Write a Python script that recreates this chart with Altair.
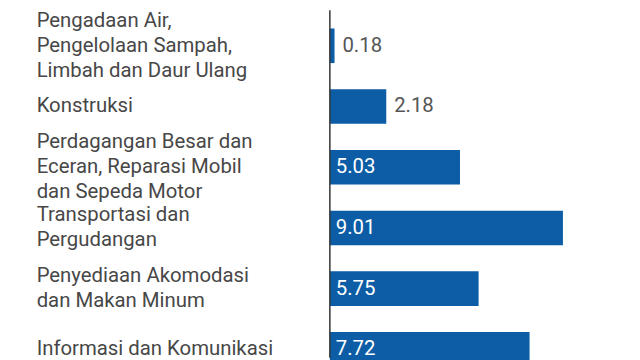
import altair as alt
import pandas as pd

categories = [
    "Pengadaan Air,\nPengelolaan Sampah,\nLimbah dan Daur Ulang",
    "Konstruksi",
    "Perdagangan Besar dan\nEceran, Reparasi Mobil\ndan Sepeda Motor",
    "Transportasi dan\nPergudangan",
    "Penyediaan Akomodasi\ndan Makan Minum",
    "Informasi dan Komunikasi",
]
values = [0.18, 2.18, 5.03, 9.01, 5.75, 7.72]

df = pd.DataFrame({"kategori": categories, "nilai": values})
df["teks"] = df["nilai"].map(lambda v: f"{v:.2f}")
df["baris"] = df["kategori"].map(lambda s: s.count("\n") + 1)

FONT = "Roboto"
BAR = "#0c5da5"
FS = 20.6
LH = 25.5

y_enc = alt.Y(
    "kategori:N",
    sort=categories,
    axis=None,
    scale=alt.Scale(range=[5.25, 374.25], paddingInner=0.43, paddingOuter=0.215),
)
x_scale = alt.Scale(domain=[0, 11.68], nice=False, zero=True)

base = alt.Chart(df)

bars = base.mark_bar(color=BAR).encode(
    x=alt.X("nilai:Q", scale=x_scale, axis=None),
    y=y_enc,
)

outside = base.transform_filter("datum.nilai < 3").mark_text(
    align="left", baseline="middle", dx=8, fontSize=FS, font=FONT, color="#555555"
).encode(
    x=alt.X("nilai:Q", scale=x_scale, axis=None),
    y=y_enc,
    text="teks:N",
)

inside = base.transform_filter("datum.nilai >= 3").mark_text(
    align="left", baseline="middle", fontSize=FS, font=FONT, color="#ffffff"
).encode(
    x=alt.value(6),
    y=y_enc,
    text="teks:N",
)

label_layers = []
for n in (1, 2, 3):
    label_layers.append(
        base.transform_filter(f"datum.baris == {n}").mark_text(
            align="left", baseline="middle", fontSize=FS, font=FONT, color="#474747",
            lineBreak="\n", lineHeight=LH, dy=-(n - 1) * LH / 2,
        ).encode(
            x=alt.value(-297),
            y=y_enc,
            text="kategori:N",
        )
    )

axis_line = alt.Chart(pd.DataFrame({"nol": [0]})).mark_rule(
    color="#333333", strokeWidth=1.5
).encode(
    x=alt.X("nol:Q", scale=x_scale, axis=None),
)

chart = alt.layer(bars, outside, inside, *label_layers, axis_line).properties(
    width=306,
    height=352,
    autosize=alt.AutoSizeParams(type="none"),
    padding={"left": 326, "top": 0, "right": 0, "bottom": 0},
    background="#ffffff",
).configure_view(stroke=None)

chart.save("out.html", embed_options={"renderer": "svg", "actions": False})
